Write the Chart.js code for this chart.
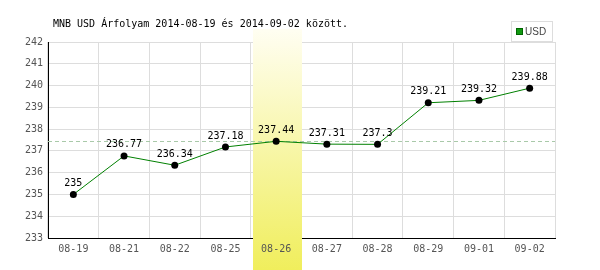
<!DOCTYPE html>
<html><head><meta charset="utf-8">
<script src="https://cdn.jsdelivr.net/npm/chart.js@4/dist/chart.umd.min.js"></script>
<style>html,body{margin:0;padding:0;background:#fff}#wrap{width:600px;height:270px;position:relative}</style>
</head><body><div id="wrap"><canvas id="c" width="600" height="270"></canvas></div>
<script>
const categories = ["08-19","08-21","08-22","08-25","08-26","08-27","08-28","08-29","09-01","09-02"];
const usdValues = [235, 236.77, 236.34, 237.18, 237.44, 237.31, 237.3, 239.21, 239.32, 239.88];
const valueLabels = ["235","236.77","236.34","237.18","237.44","237.31","237.3","239.21","239.32","239.88"];
const highlightIndex = 4;
const referenceValue = 237.44;
const yMin = 233, yMax = 242;
const titleText = "MNB USD Árfolyam 2014-08-19 és 2014-09-02 között.";
const seriesName = "USD";
const MONO = "'DejaVu Sans Mono', monospace";

const decor = {
  id: 'decor',
  beforeDatasetsDraw(chart) {
    const ctx = chart.ctx, x = chart.scales.x, y = chart.scales.y, ca = chart.chartArea;
    const w = (ca.right - ca.left) / categories.length;
    const cx = x.getPixelForValue(highlightIndex);
    const g = ctx.createLinearGradient(0, 29, 0, 270);
    g.addColorStop(0, '#fffef2');
    g.addColorStop(1, '#f0ee5c');
    ctx.save();
    ctx.fillStyle = g;
    ctx.fillRect(Math.round(cx - w / 2) + 2, 29, Math.round(w) - 2, 241);
    // dashed reference line
    const ry = Math.round(y.getPixelForValue(referenceValue)) + 0.5;
    ctx.strokeStyle = '#a9c9a9';
    ctx.lineWidth = 1;
    ctx.setLineDash([4, 3]);
    ctx.beginPath(); ctx.moveTo(ca.left, ry); ctx.lineTo(ca.right, ry); ctx.stroke();
    ctx.restore();
  },
  afterDatasetsDraw(chart) {
    const ctx = chart.ctx;
    const meta = chart.getDatasetMeta(0);
    ctx.save();
    ctx.font = "10px " + MONO;
    ctx.fillStyle = '#000';
    ctx.textAlign = 'center';
    ctx.textBaseline = 'middle';
    meta.data.forEach((p, i) => {
      ctx.fillText(valueLabels[i], p.x, p.y - 11);
    });
    // title
    ctx.textAlign = 'left';
    ctx.fillText(titleText, 53, 24);
    // legend
    ctx.fillStyle = '#fff';
    ctx.fillRect(511, 21, 41, 20);
    ctx.strokeStyle = '#dddddd';
    ctx.strokeRect(511.5, 21.5, 41, 20);
    ctx.fillStyle = '#006600';
    ctx.fillRect(516, 28, 7, 7);
    ctx.fillStyle = '#119911';
    ctx.fillRect(517, 29, 5, 5);
    ctx.fillStyle = '#444';
    ctx.font = "10px 'Liberation Sans Narrow', 'Liberation Sans', Arial, sans-serif";
    ctx.fillText(seriesName, 525, 32);
    ctx.restore();
  }
};

new Chart(document.getElementById('c'), {
  type: 'line',
  data: {
    labels: categories,
    datasets: [{
      label: seriesName,
      data: usdValues,
      borderColor: '#008000',
      borderWidth: 1,
      pointBackgroundColor: '#000',
      pointBorderColor: '#000',
      pointRadius: 3.5,
      pointBorderWidth: 0,
      tension: 0,
      fill: false
    }]
  },
  options: {
    responsive: false,
    animation: false,
    devicePixelRatio: 1,
    layout: { padding: { left: 0, right: 45, top: 42, bottom: 0 } },
    plugins: { legend: { display: false }, tooltip: { enabled: false }, title: { display: false } },
    scales: {
      x: {
        offset: true,
        grid: { offset: true, color: '#dddddd', drawTicks: false },
        border: { color: '#000', width: 1 },
        ticks: { z: 1, color: '#555', font: { family: MONO, size: 10 }, padding: 5, maxRotation: 0, autoSkip: false },
        afterFit(s) { s.height = 32; }
      },
      y: {
        min: yMin, max: yMax,
        grid: { color: '#dddddd', drawTicks: false },
        border: { color: '#000', width: 1 },
        ticks: { stepSize: 1, color: '#555', font: { family: MONO, size: 10 }, padding: 5 },
        afterFit(s) { s.width = 48; }
      }
    }
  },
  plugins: [decor]
});
</script></body></html>
